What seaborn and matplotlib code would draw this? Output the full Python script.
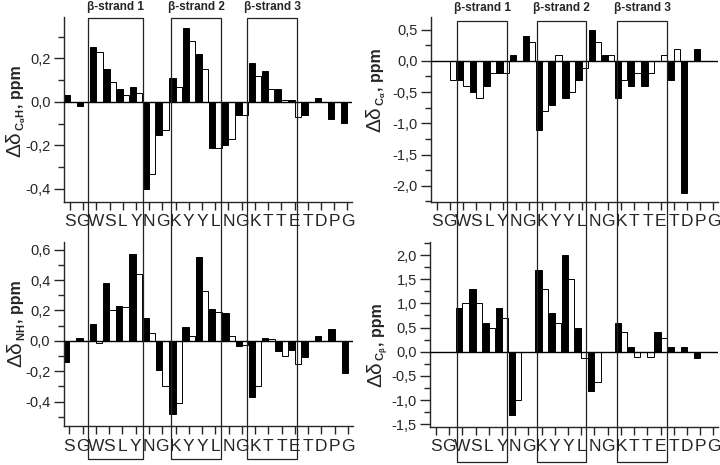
import matplotlib
matplotlib.use("Agg")
import numpy as np
import pandas as pd
import matplotlib.pyplot as plt
import seaborn as sns
from matplotlib.ticker import FuncFormatter, MultipleLocator
from matplotlib.patches import Rectangle

nan = np.nan
residues = ["S", "G", "W", "S", "L", "Y", "N", "G", "K", "Y", "Y",
            "L", "N", "G", "K", "T", "T", "E", "T", "D", "P", "G"]

# delta C(alpha)H
cah_black = [0.03, -0.02, 0.25, 0.15, 0.06, 0.07, -0.40, -0.15, 0.11, 0.34, 0.22,
             -0.21, -0.20, -0.06, 0.18, 0.14, 0.06, 0.01, -0.06, 0.02, -0.08, -0.095]
cah_white = [nan, nan, 0.23, 0.09, 0.03, 0.04, -0.33, -0.13, 0.07, 0.28, 0.15,
             -0.21, -0.17, -0.06, 0.12, 0.06, 0.01, -0.07, nan, nan, nan, nan]
# delta C(alpha)
ca_black = [nan, nan, -0.30, -0.50, -0.40, -0.20, 0.10, 0.40, -1.10, -0.70, -0.60,
            -0.30, 0.50, 0.10, -0.60, -0.40, -0.40, nan, -0.31, -2.12, 0.19, nan]
ca_white = [nan, -0.30, -0.40, -0.60, -0.20, -0.20, nan, 0.30, -0.80, 0.10, -0.50,
            -0.11, 0.30, 0.10, -0.30, -0.20, -0.20, 0.10, 0.19, nan, nan, nan]
# delta NH
nh_black = [-0.14, 0.02, 0.11, 0.38, 0.23, 0.57, 0.15, -0.19, -0.48, 0.09, 0.55,
            0.21, 0.18, -0.035, -0.37, 0.02, -0.065, -0.06, -0.105, 0.035, 0.077, -0.21]
nh_white = [nan, nan, -0.012, 0.20, 0.22, 0.44, 0.05, -0.295, -0.41, 0.03, 0.33,
            0.19, 0.03, -0.03, -0.30, 0.01, -0.10, -0.155, nan, nan, nan, nan]
# delta C(beta)
cb_black = [nan, nan, 0.90, 1.30, 0.60, 0.90, -1.30, nan, 1.70, 0.80, 2.00,
            0.50, -0.81, nan, 0.60, 0.10, nan, 0.40, 0.10, 0.10, -0.12, nan]
cb_white = [nan, nan, 1.00, 1.00, 0.50, 0.70, -1.00, nan, 1.30, 0.60, 1.50,
            -0.12, -0.62, nan, 0.40, -0.10, -0.10, 0.28, nan, nan, nan, nan]

strand_labels = ["\u03b2-strand 1", "\u03b2-strand 2", "\u03b2-strand 3"]
boxes_left = [(1.39, 5.53), (7.63, 11.46), (13.43, 17.22)]
boxes_right = [(1.56, 5.35), (7.58, 11.36), (13.68, 17.5)]

sns.set_style("ticks")
plt.rcParams["font.family"] = ["Liberation Sans", "DejaVu Sans"]
plt.rcParams["mathtext.fontset"] = "custom"
plt.rcParams["mathtext.rm"] = "Liberation Sans:bold"
plt.rcParams["mathtext.it"] = "Liberation Sans:bold"
plt.rcParams["mathtext.bf"] = "Liberation Sans:bold"
plt.rcParams["mathtext.default"] = "bf"

W, H = 720, 465
fig = plt.figure(figsize=(7.2, 4.65), dpi=100)


def px_axes(l, t, r, b):
    return fig.add_axes([l / W, 1 - b / H, (r - l) / W, (b - t) / H])


panels = [
    dict(ax=px_axes(64, 17, 352, 202), black=cah_black, white=cah_white,
         ylim=(-0.46, 0.39), major=0.2, minor=0.1,
         sub=r"$C_{\alpha}H$", lab=(20.7, 157)),
    dict(ax=px_axes(431, 17, 718, 202), black=ca_black, white=ca_white,
         ylim=(-2.26, 0.70), major=0.5, minor=0.25,
         sub=r"$C_{\alpha}$", lab=(380.7, 132)),
    dict(ax=px_axes(63.5, 242, 352.5, 426), black=nh_black, white=nh_white,
         ylim=(-0.56, 0.65), major=0.2, minor=0.1,
         sub=r"$NH$", lab=(21.5, 367)),
    dict(ax=px_axes(430, 242, 718, 426.7), black=cb_black, white=cb_white,
         ylim=(-1.55, 2.27), major=0.5, minor=0.25,
         sub=r"$C_{\beta}$", lab=(381.7, 387)),
]

comma = FuncFormatter(lambda v, pos: f"{v:.1f}".replace(".", ",").replace("-0,0", "0,0"))

for p in panels:
    ax = p["ax"]
    n = len(residues)
    df = pd.DataFrame({
        "pos": list(range(n)) * 2,
        "value": p["black"] + p["white"],
        "series": ["a"] * n + ["b"] * n,
    })
    sns.barplot(data=df, x="pos", y="value", hue="series", order=list(range(n)),
                hue_order=["a", "b"], palette={"a": "black", "b": "white"},
                edgecolor="black", linewidth=0.7, width=0.95, errorbar=None,
                legend=False, ax=ax)
    ax.axhline(0, color="black", lw=1.0, zorder=3)
    ax.set_xlim(-0.45, 21.35)
    ax.set_ylim(*p["ylim"])
    ax.set_xticks(range(n))
    ax.set_xticklabels(residues)
    ax.set_xlabel("")
    ax.set_ylabel("")
    ax.yaxis.set_major_locator(MultipleLocator(p["major"]))
    ax.yaxis.set_minor_locator(MultipleLocator(p["minor"]))
    ax.yaxis.set_major_formatter(comma)
    ax.tick_params(axis="x", labelsize=12.5, length=6, width=1, pad=3)
    ax.tick_params(axis="y", which="major", labelsize=10.5, length=7, width=1, pad=2.5)
    ax.tick_params(axis="y", which="minor", length=4, width=1)
    sns.despine(ax=ax)
    for s in ["left", "bottom"]:
        ax.spines[s].set_linewidth(1.0)

# rotated y labels: regular delta-delta, small bold subscript, bold ", ppm"
renderer = fig.canvas.get_renderer()
for p in panels:
    xb, y = p["lab"]
    pieces = [("\u0394\u03b4", 15, "normal", 0, 0.5),
              (p["sub"], 8, "bold", 3.5, 0.5),
              (", ppm", 11.5, "bold", 0, 0)]
    for txt, size, weight, dx, gap in pieces:
        t = fig.text((xb + dx) / W, 1 - y / H, txt, fontsize=size, fontweight=weight,
                     rotation=90, rotation_mode="anchor", ha="left", va="baseline")
        bb = t.get_window_extent(renderer)
        y = H - bb.y1 - gap

# strand boxes spanning both rows of each column
inv = fig.transFigure.inverted()
for top_ax, boxes, ytop, ybot, ytext in [
    (panels[0]["ax"], boxes_left, 18, 459, 7),
    (panels[1]["ax"], boxes_right, 20.7, 461.7, 8),
]:
    for (x0, x1), lab in zip(boxes, strand_labels):
        fx0 = inv.transform(top_ax.transData.transform((x0, 0)))[0]
        fx1 = inv.transform(top_ax.transData.transform((x1, 0)))[0]
        fig.add_artist(Rectangle((fx0, 1 - ybot / H), fx1 - fx0, (ybot - ytop) / H,
                                 transform=fig.transFigure, fill=False,
                                 edgecolor="#222222", lw=0.9, zorder=5))
        fig.text((fx0 + fx1) / 2, 1 - ytext / H, lab, ha="center", va="center",
                 fontsize=8.5, fontweight="bold")

fig.savefig("out.png", dpi=100)
